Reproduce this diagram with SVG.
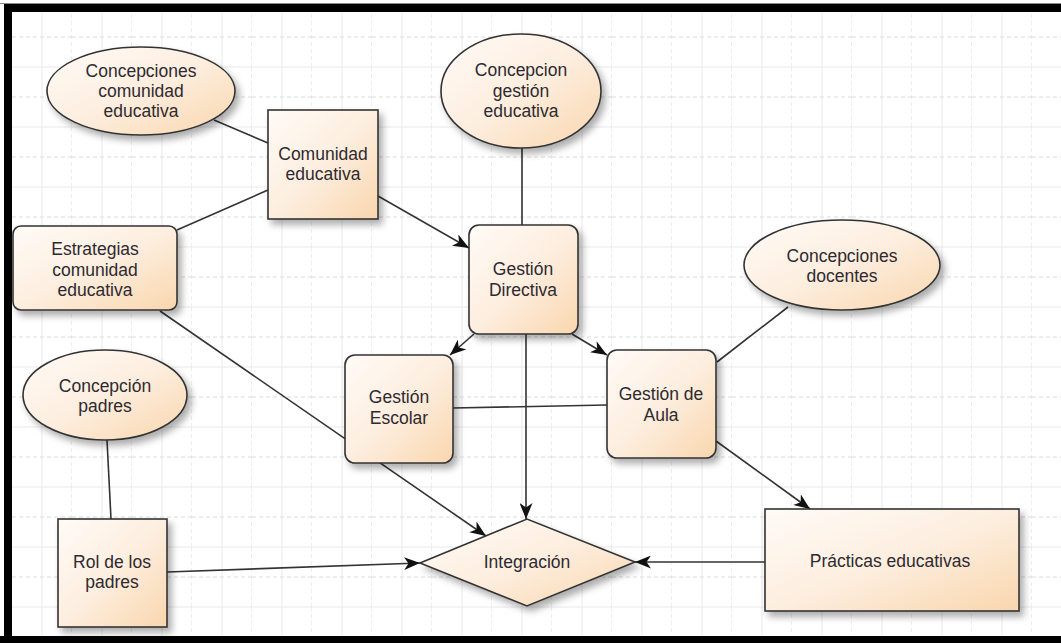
<svg xmlns="http://www.w3.org/2000/svg" width="1061" height="643" viewBox="0 0 1061 643">
<defs>
<pattern id="grid" x="12" y="7" width="60" height="60" patternUnits="userSpaceOnUse">
<path d="M60,0 V60 M0,30 H60" stroke="#dcdcdc" stroke-width="1" fill="none" stroke-dasharray="4,3"/>
<path d="M30,0 V60 M0,0 H60 M0,60 H60" stroke="#e9e9e9" stroke-width="1" fill="none"/>
</pattern>
<linearGradient id="fillg" x1="0" y1="0" x2="1" y2="1">
<stop offset="0" stop-color="#fffbf7"/>
<stop offset="0.5" stop-color="#fdeedf"/>
<stop offset="1" stop-color="#f9d6ad"/>
</linearGradient>
<filter id="sh" x="-20%" y="-20%" width="150%" height="150%">
<feDropShadow dx="4" dy="5" stdDeviation="3.5" flood-color="#000" flood-opacity="0.32"/>
</filter>
<marker id="arr" viewBox="0 0 16 13" refX="16" refY="6.5" markerWidth="16" markerHeight="13" markerUnits="userSpaceOnUse" orient="auto">
<path d="M0,0 L16,6.5 L0,13 L4.5,6.5 z" fill="#111"/>
</marker>
</defs>
<style>
.node{fill:url(#fillg);stroke:#333;stroke-width:1.6;filter:url(#sh)}
.lbl{font-family:"Liberation Sans",Arial,sans-serif;font-size:17.5px;fill:#2e2a30;text-anchor:middle}
.edge{stroke:#333;stroke-width:1.6;fill:none}
.arrow{marker-end:url(#arr)}
</style>
<rect x="0" y="0" width="1061" height="643" fill="#fff"/>
<rect x="12" y="12" width="1049" height="624" fill="url(#grid)"/>
<g id="frame">
<rect x="0" y="3" width="1061" height="1" fill="#888"/>
<rect x="4" y="4" width="1057" height="8" fill="#000"/>
<rect x="4" y="4" width="8" height="639" fill="#000"/>
<rect x="0" y="636" width="1061" height="7" fill="#000"/>
</g>
<g id="connectors">
<line class="edge" x1="214" y1="120" x2="268" y2="143"/>
<line class="edge" x1="268" y1="190" x2="177" y2="230"/>
<line class="edge arrow" x1="378" y1="196" x2="469" y2="248"/>
<line class="edge" x1="522" y1="148" x2="522" y2="225"/>
<line class="edge arrow" x1="474" y1="334" x2="450" y2="355"/>
<line class="edge arrow" x1="572" y1="334" x2="607" y2="355"/>
<line class="edge arrow" x1="526" y1="334" x2="526" y2="519"/>
<line class="edge" x1="453" y1="408" x2="607" y2="405"/>
<line class="edge" x1="788" y1="307" x2="717" y2="362"/>
<line class="edge arrow" x1="716" y1="441" x2="810" y2="509"/>
<line class="edge arrow" x1="160" y1="311" x2="486" y2="536"/>
<line class="edge arrow" x1="167" y1="572" x2="420" y2="563"/>
<line class="edge" x1="107" y1="440" x2="111" y2="519"/>
<line class="edge arrow" x1="765" y1="562" x2="635" y2="562"/>
</g>
<g id="concepciones-comunidad">
<ellipse class="node" cx="141" cy="91" rx="94" ry="44"/>
<text class="lbl" x="141" y="77">Concepciones</text>
<text class="lbl" x="141" y="97">comunidad</text>
<text class="lbl" x="141" y="117">educativa</text>
</g>
<g id="comunidad-educativa">
<rect class="node" x="268" y="110" width="110" height="109"/>
<text class="lbl" x="323" y="160">Comunidad</text>
<text class="lbl" x="323" y="180">educativa</text>
</g>
<g id="estrategias">
<rect class="node" x="13" y="226" width="164" height="84" rx="8"/>
<text class="lbl" x="95" y="255">Estrategias</text>
<text class="lbl" x="95" y="276">comunidad</text>
<text class="lbl" x="95" y="296">educativa</text>
</g>
<g id="concepcion-gestion">
<ellipse class="node" cx="521" cy="91" rx="80" ry="57"/>
<text class="lbl" x="521" y="76">Concepcion</text>
<text class="lbl" x="521" y="97">gestión</text>
<text class="lbl" x="521" y="117">educativa</text>
</g>
<g id="gestion-directiva">
<rect class="node" x="469" y="225" width="109" height="109" rx="10"/>
<text class="lbl" x="523" y="275">Gestión</text>
<text class="lbl" x="523" y="296">Directiva</text>
</g>
<g id="gestion-escolar">
<rect class="node" x="345" y="355" width="108" height="108" rx="10"/>
<text class="lbl" x="399" y="403">Gestión</text>
<text class="lbl" x="399" y="424">Escolar</text>
</g>
<g id="gestion-aula">
<rect class="node" x="607" y="350" width="109" height="108" rx="10"/>
<text class="lbl" x="661" y="400">Gestión de</text>
<text class="lbl" x="661" y="421">Aula</text>
</g>
<g id="concepciones-docentes">
<ellipse class="node" cx="842" cy="265" rx="98" ry="45"/>
<text class="lbl" x="842" y="262">Concepciones</text>
<text class="lbl" x="842" y="282">docentes</text>
</g>
<g id="concepcion-padres">
<ellipse class="node" cx="105" cy="395" rx="82" ry="45"/>
<text class="lbl" x="105" y="392">Concepción</text>
<text class="lbl" x="105" y="412">padres</text>
</g>
<g id="rol-padres">
<rect class="node" x="58" y="519" width="109" height="108"/>
<text class="lbl" x="112" y="568">Rol de los</text>
<text class="lbl" x="112" y="588">padres</text>
</g>
<g id="integracion">
<polygon class="node" points="420,563 527,519 635,562 527,606"/>
<text class="lbl" x="527" y="568">Integración</text>
</g>
<g id="practicas">
<rect class="node" x="765" y="509" width="254" height="102"/>
<text class="lbl" x="890" y="567">Prácticas educativas</text>
</g>
</svg>
